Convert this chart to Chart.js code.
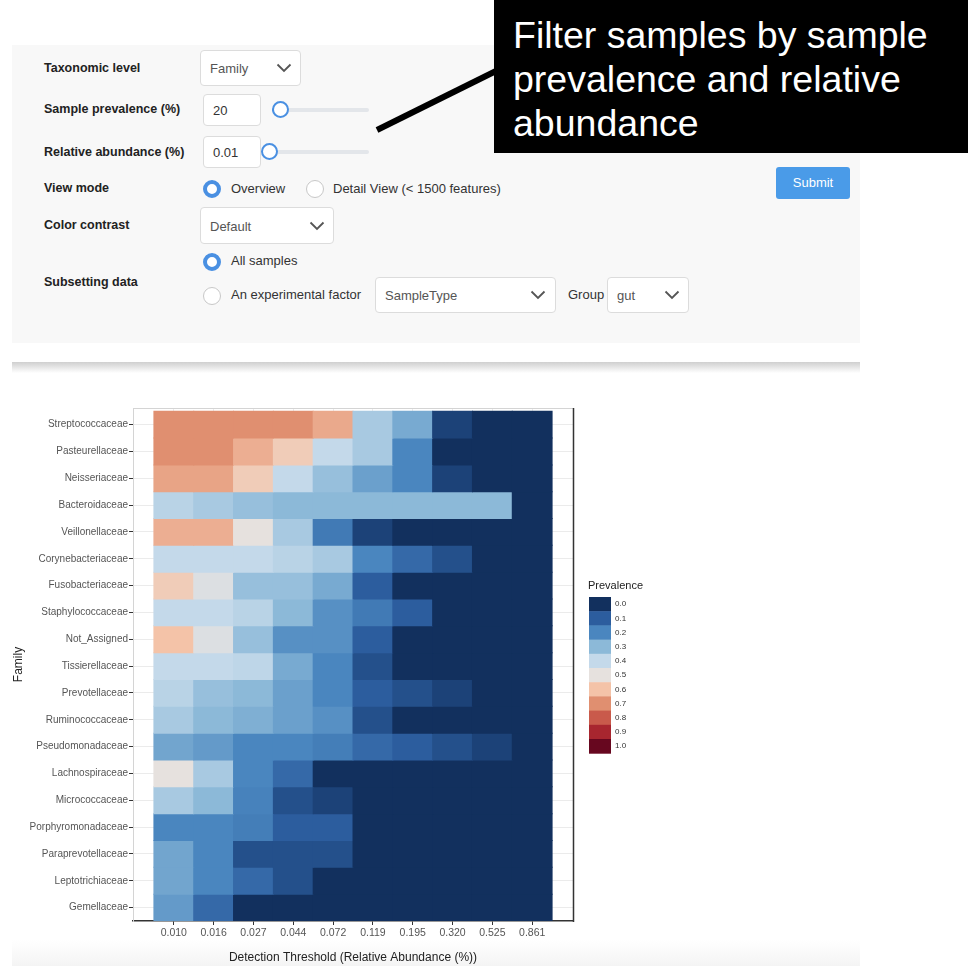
<!DOCTYPE html>
<html>
<head>
<meta charset="utf-8">
<script src="https://cdn.jsdelivr.net/npm/chart.js@4"></script>
<style>
  html, body { margin:0; padding:0; background:#fff; width:968px; height:966px; overflow:hidden; position:relative; font-family:"Liberation Sans", Arial, sans-serif; }
  .abs { position:absolute; }
  .panel { left:12px; top:45px; width:848px; height:298px; background:#f8f8f8; }
  .lab { position:absolute; left:44px; font-weight:bold; font-size:12.5px; color:#222; line-height:16px; }
  .box { position:absolute; background:#fff; border:1px solid #dcdcdc; border-radius:4px; box-sizing:border-box; font-size:13px; color:#555; }
  .box span.t { position:absolute; left:9px; top:50%; transform:translateY(-50%); }
  .box svg { position:absolute; top:50%; transform:translateY(-50%); }
  .txt { position:absolute; font-size:13px; color:#333; line-height:16px; }
  .radio { position:absolute; width:18px; height:18px; border-radius:50%; box-sizing:border-box; background:#fff; }
  .radio.on { border:4px solid #4a90e2; }
  .radio.off { border:1px solid #c8c8c8; }
  .track { position:absolute; height:4px; background:#e3e6ea; border-radius:2px; }
  .knob { position:absolute; width:17px; height:17px; border-radius:50%; border:2px solid #4a90e2; background:#fff; box-sizing:border-box; }
  .note { left:494px; top:0; width:474px; height:153px; background:#000; color:#fff; font-size:37.5px; line-height:44px; }
  .note div { position:absolute; left:19px; }
</style>
</head>
<body>
<div class="abs panel"></div>

<div class="lab" style="top:60px">Taxonomic level</div>
<div class="box" style="left:200px;top:50px;width:101px;height:36px"><span class="t">Family</span>
  <svg style="left:75px" width="16" height="10"><polyline points="1.5,1.5 8,8 14.5,1.5" fill="none" stroke="#555" stroke-width="1.8"/></svg></div>

<div class="lab" style="top:101px">Sample prevalence (%)</div>
<div class="box" style="left:203px;top:94px;width:58px;height:32px;color:#333"><span class="t">20</span></div>
<div class="track" style="left:272px;top:108px;width:97px"></div>
<div class="track" style="left:272px;top:108px;width:9px;background:#4a90e2"></div>
<div class="knob" style="left:272px;top:101px"></div>

<div class="lab" style="top:144px">Relative abundance (%)</div>
<div class="box" style="left:203px;top:136px;width:58px;height:32px;color:#333"><span class="t">0.01</span></div>
<div class="track" style="left:262px;top:150px;width:107px"></div>
<div class="knob" style="left:261px;top:143px"></div>

<div class="lab" style="top:180px">View mode</div>
<div class="radio on" style="left:203px;top:180px"></div>
<div class="txt" style="left:231px;top:181px">Overview</div>
<div class="radio off" style="left:306px;top:180px"></div>
<div class="txt" style="left:333px;top:181px">Detail View (&lt; 1500 features)</div>
<div class="abs" style="left:776px;top:167px;width:74px;height:32px;background:#4a9be8;border-radius:3px;color:#fff;font-size:13px;line-height:32px;text-align:center">Submit</div>

<div class="lab" style="top:217px">Color contrast</div>
<div class="box" style="left:200px;top:207px;width:134px;height:37px"><span class="t">Default</span>
  <svg style="left:108px" width="16" height="10"><polyline points="1.5,1.5 8,8 14.5,1.5" fill="none" stroke="#555" stroke-width="1.8"/></svg></div>

<div class="radio on" style="left:203px;top:253px"></div>
<div class="txt" style="left:231px;top:253px">All samples</div>
<div class="lab" style="top:274px">Subsetting data</div>
<div class="radio off" style="left:203px;top:287px"></div>
<div class="txt" style="left:231px;top:287px">An experimental factor</div>
<div class="box" style="left:375px;top:277px;width:181px;height:36px"><span class="t">SampleType</span>
  <svg style="left:154px" width="16" height="10"><polyline points="1.5,1.5 8,8 14.5,1.5" fill="none" stroke="#555" stroke-width="1.8"/></svg></div>
<div class="txt" style="left:568px;top:287px">Group</div>
<div class="box" style="left:607px;top:277px;width:82px;height:36px"><span class="t">gut</span>
  <svg style="left:56px" width="16" height="10"><polyline points="1.5,1.5 8,8 14.5,1.5" fill="none" stroke="#555" stroke-width="1.8"/></svg></div>

<div class="abs" style="left:12px;top:362px;width:848px;height:11px;background:linear-gradient(#cfcfcf,#ffffff)"></div>
<div class="abs" style="left:12px;top:940px;width:848px;height:26px;background:linear-gradient(#ffffff,#f4f4f4)"></div>

<svg class="abs" style="left:0;top:0" width="968" height="200">
  <line x1="377" y1="130" x2="496" y2="71" stroke="#000" stroke-width="6"/>
</svg>
<div class="abs note">
  <div style="top:13px">Filter samples by sample</div>
  <div style="top:57px">prevalence and relative</div>
  <div style="top:101px">abundance</div>
</div>

<canvas id="c" class="abs" style="left:0;top:376px" width="700" height="590"></canvas>

<script>
// ---- data ----
const thresholds = ['0.010','0.016','0.027','0.044','0.072','0.119','0.195','0.320','0.525','0.861'];
const families = ['Streptococcaceae','Pasteurellaceae','Neisseriaceae','Bacteroidaceae','Veillonellaceae',
  'Corynebacteriaceae','Fusobacteriaceae','Staphylococcaceae','Not_Assigned','Tissierellaceae',
  'Prevotellaceae','Ruminococcaceae','Pseudomonadaceae','Lachnospiraceae','Micrococcaceae',
  'Porphyromonadaceae','Paraprevotellaceae','Leptotrichiaceae','Gemellaceae'];
// prevalence per family (rows) at each detection threshold (columns)
const prevalence = [
  [0.70,0.70,0.70,0.70,0.65,0.35,0.27,0.04,0.00,0.00],
  [0.70,0.70,0.64,0.57,0.40,0.35,0.20,0.00,0.00,0.00],
  [0.66,0.66,0.57,0.40,0.32,0.25,0.20,0.04,0.00,0.00],
  [0.38,0.35,0.32,0.30,0.30,0.30,0.30,0.30,0.30,0.00],
  [0.64,0.64,0.50,0.35,0.17,0.04,0.00,0.00,0.00,0.00],
  [0.40,0.40,0.40,0.38,0.35,0.20,0.13,0.07,0.00,0.00],
  [0.57,0.47,0.32,0.32,0.27,0.10,0.00,0.00,0.00,0.00],
  [0.40,0.40,0.38,0.30,0.22,0.17,0.10,0.00,0.00,0.00],
  [0.60,0.47,0.32,0.22,0.22,0.10,0.00,0.00,0.00,0.00],
  [0.40,0.40,0.39,0.27,0.20,0.07,0.00,0.00,0.00,0.00],
  [0.38,0.32,0.30,0.25,0.20,0.10,0.07,0.04,0.00,0.00],
  [0.35,0.30,0.28,0.25,0.22,0.07,0.00,0.00,0.00,0.00],
  [0.26,0.24,0.20,0.20,0.18,0.13,0.10,0.07,0.04,0.00],
  [0.50,0.35,0.20,0.13,0.00,0.00,0.00,0.00,0.00,0.00],
  [0.35,0.30,0.19,0.07,0.04,0.00,0.00,0.00,0.00,0.00],
  [0.20,0.20,0.18,0.10,0.10,0.00,0.00,0.00,0.00,0.00],
  [0.26,0.20,0.07,0.07,0.07,0.00,0.00,0.00,0.00,0.00],
  [0.26,0.20,0.13,0.07,0.00,0.00,0.00,0.00,0.00,0.00],
  [0.24,0.13,0.00,0.00,0.00,0.00,0.00,0.00,0.00,0.00]
];
const legendTicks = ['0.0','0.1','0.2','0.3','0.4','0.5','0.6','0.7','0.8','0.9','1.0'];

// ---- style ----
const palette = ['#12305e','#2c5d9e','#4a86bf','#8cb9d8','#c4d9ea','#e6e1de','#f4c3a8','#e08f70','#c95a4b','#a8262f','#67071f'];
function hex(c){ return [1,3,5].map(i => parseInt(c.substr(i,2),16)); }
function colorFor(v){
  const p = Math.max(0, Math.min(1, v)) * (palette.length - 1);
  const i = Math.min(Math.floor(p), palette.length - 2), t = p - i;
  const a = hex(palette[i]), b = hex(palette[i+1]);
  return 'rgb(' + a.map((x,k) => Math.round(x + (b[k]-x)*t)).join(',') + ')';
}
const FONT = '"Liberation Sans", Arial, sans-serif';

const datasets = families.map((f, r) => ({
  label: f,
  data: thresholds.map((t, c) => ({ x: c, y: [r - 0.5, r + 0.5] })),
  backgroundColor: prevalence[r].map(colorFor),
  borderWidth: 0,
  grouped: false,
  barPercentage: 1,
  categoryPercentage: 1,
  inflateAmount: 0.5
}));

const extras = {
  id: 'extras',
  afterDraw(chart) {
    const ctx = chart.ctx, a = chart.chartArea;
    ctx.save();
    ctx.lineWidth = 1;
    ctx.strokeStyle = '#d4d4d4';
    ctx.beginPath(); ctx.moveTo(a.left, a.top + 0.5); ctx.lineTo(a.right, a.top + 0.5); ctx.stroke();
    ctx.strokeStyle = '#333';
    ctx.lineWidth = 1.5;
    ctx.beginPath(); ctx.moveTo(a.right + 0.5, a.top); ctx.lineTo(a.right + 0.5, a.bottom + 1); ctx.stroke();
    // colour legend
    const lx = 589, ly = 221, bw = 22, bh = 14.2;
    ctx.fillStyle = '#222';
    ctx.font = '11px ' + FONT;
    ctx.textBaseline = 'middle';
    ctx.textAlign = 'left';
    ctx.fillText('Prevalence', 588, 210);
    legendTicks.forEach((t, i) => {
      ctx.fillStyle = colorFor(parseFloat(t));
      ctx.fillRect(lx, ly + i * bh, bw, bh + 0.5);
      ctx.fillStyle = '#333';
      ctx.font = '8px ' + FONT;
      ctx.fillText(t, lx + 26, ly + i * bh + bh / 2);
    });
    ctx.restore();
  }
};

new Chart(document.getElementById('c'), {
  type: 'bar',
  data: { datasets },
  plugins: [extras],
  options: {
    responsive: false,
    animation: false,
    layout: { padding: { left: 10, top: 32, right: 127, bottom: 0 } },
    plugins: { legend: { display: false }, tooltip: { enabled: false } },
    scales: {
      x: {
        type: 'linear',
        offset: false,
        min: -1.025,
        max: 10.025,
        afterBuildTicks(s) { s.ticks = thresholds.map((_, i) => ({ value: i })); },
        grid: { offset: false, color: '#ebebeb', tickColor: '#333', tickLength: 4, lineWidth: 1 },
        border: { color: '#333', width: 1.5 },
        ticks: { autoSkip: false, font: { family: FONT, size: 10.5 }, color: '#555', padding: 2, maxRotation: 0,
                 callback: v => thresholds[v] },
        title: { display: true, text: 'Detection Threshold (Relative Abundance (%))', font: { family: FONT, size: 12 }, color: '#222', padding: { top: 4, bottom: 1 } },
        afterFit(s) { s.height = 45; }
      },
      y: {
        type: 'linear',
        reverse: true,
        min: -0.62,
        max: 18.5,
        afterBuildTicks(s) { s.ticks = families.map((_, i) => ({ value: i })); },
        grid: { offset: false, color: '#ebebeb', tickColor: '#333', tickLength: 4 },
        border: { color: '#d4d4d4', width: 1 },
        ticks: { autoSkip: false, font: { family: FONT, size: 10 }, color: '#555', padding: 1,
                 callback: v => families[v] },
        title: { display: true, text: 'Family', font: { family: FONT, size: 12 }, color: '#222', padding: { top: 1, bottom: 0 } },
        afterFit(s) { s.width = 123; }
      }
    }
  }
});
</script>
</body>
</html>
